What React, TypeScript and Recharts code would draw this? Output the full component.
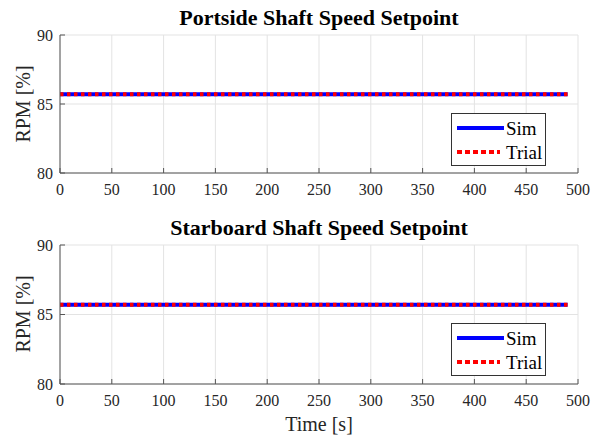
import React from 'react';
import { LineChart, Line, XAxis, YAxis, CartesianGrid, Legend } from 'recharts';

// ---- data ----
const timeS = [0, 100, 200, 300, 400, 490];
const portSim = [85.7, 85.7, 85.7, 85.7, 85.7, 85.7];
const portTrial = [85.7, 85.7, 85.7, 85.7, 85.7, 85.7];
const stbdSim = [85.7, 85.7, 85.7, 85.7, 85.7, 85.7];
const stbdTrial = [85.7, 85.7, 85.7, 85.7, 85.7, 85.7];
const xTicks = [0, 50, 100, 150, 200, 250, 300, 350, 400, 450, 500];
const yTicks = [80, 85, 90];
const titles = ['Portside Shaft Speed Setpoint', 'Starboard Shaft Speed Setpoint'];
const seriesNames = ['Sim', 'Trial'];
const xLabel = 'Time [s]';
const yLabel = 'RPM [%]';

// ---- styles ----
const FONT = "'Liberation Serif', 'Times New Roman', serif";
const AXIS = '#555555';
const TEXT = '#262626';
const GRID = '#e3e3e3';
const BLUE = '#0000ff';
const RED = '#ff0000';

const buildData = (sim: number[], trial: number[]) =>
  timeS.map((t, i) => ({ t, sim: sim[i], trial: trial[i] }));

const portData = buildData(portSim, portTrial);
const stbdData = buildData(stbdSim, stbdTrial);

const legendText: React.CSSProperties = { fontFamily: FONT, fontSize: 19 };

const LegendBox = () => (
  <svg width={96} height={54} style={{ display: 'block', fontFamily: FONT }}>
    <rect x={0.5} y={0.5} width={94} height={52} fill="#ffffff" stroke="#333333" strokeWidth={1} />
    <line x1={6} x2={53} y1={15} y2={15} stroke={BLUE} strokeWidth={4} />
    <text x={55} y={21.5} style={legendText} fill="#000">{seriesNames[0]}</text>
    <line x1={6} x2={49} y1={39} y2={39} stroke={RED} strokeWidth={4} strokeDasharray="5 3" />
    <text x={55} y={45.5} style={legendText} fill="#000">{seriesNames[1]}</text>
  </svg>
);

type PanelProps = { data: any[]; height: number; xAxisHeight: number };

const tickStyle = { fill: TEXT, fontSize: 16, fontFamily: FONT };

const Panel = ({ data, height, xAxisHeight }: PanelProps) => (
  <LineChart
    width={602}
    height={height}
    data={data}
    margin={{ top: 35, right: 24, left: 0, bottom: 0 }}
    style={{ fontFamily: FONT }}
  >
    <CartesianGrid stroke={GRID} strokeWidth={1} />
    <XAxis
      dataKey="t"
      type="number"
      domain={[0, 500]}
      ticks={xTicks}
      interval={0}
      allowDataOverflow
      height={xAxisHeight}
      stroke={AXIS}
      tickSize={-5}
      tickMargin={16}
      fontFamily={FONT}
      fontSize={16}
      tick={tickStyle}
    />
    <XAxis
      xAxisId="top"
      orientation="top"
      dataKey="t"
      type="number"
      domain={[0, 500]}
      ticks={xTicks}
      interval={0}
      allowDataOverflow
      height={0}
      stroke={AXIS}
      tickSize={-5}
      tick={false}
    />
    <YAxis
      type="number"
      domain={[80, 90]}
      ticks={yTicks}
      interval={0}
      allowDataOverflow
      width={60}
      stroke={AXIS}
      tickSize={-5}
      tickMargin={12}
      fontFamily={FONT}
      fontSize={16}
      tick={tickStyle}
    />
    <YAxis
      yAxisId="right"
      orientation="right"
      type="number"
      domain={[80, 90]}
      ticks={yTicks}
      interval={0}
      allowDataOverflow
      width={0}
      stroke={AXIS}
      tickSize={-5}
      tick={false}
    />
    <Line
      type="linear"
      dataKey="sim"
      name={seriesNames[0]}
      stroke={BLUE}
      strokeWidth={4}
      dot={false}
      activeDot={false}
      isAnimationActive={false}
    />
    <Line
      type="linear"
      dataKey="trial"
      name={seriesNames[1]}
      stroke={RED}
      strokeWidth={4}
      strokeDasharray="3.5 3.5"
      dot={false}
      activeDot={false}
      isAnimationActive={false}
    />
    <Legend
      layout="vertical"
      align="center"
      verticalAlign="middle"
      wrapperStyle={{ left: 451, top: 113, width: 96, height: 54 }}
      content={() => <LegendBox />}
    />
  </LineChart>
);

const titleStyle = (top: number): React.CSSProperties => ({
  position: 'absolute',
  left: 60,
  width: 518,
  top,
  textAlign: 'center',
  fontFamily: FONT,
  fontWeight: 'bold',
  fontSize: 22,
  lineHeight: '22px',
  color: '#000',
  whiteSpace: 'nowrap',
});

const yLabelStyle = (centerY: number): React.CSSProperties => ({
  position: 'absolute',
  left: 23,
  top: centerY,
  transform: 'translate(-50%, -50%) rotate(-90deg)',
  fontFamily: FONT,
  fontSize: 20,
  lineHeight: '20px',
  color: TEXT,
  whiteSpace: 'nowrap',
});

export default function App() {
  return (
    <div
      style={{
        position: 'absolute',
        left: 0,
        top: 0,
        width: 602,
        height: 435,
        background: '#ffffff',
        overflow: 'hidden',
        fontFamily: FONT,
      }}
    >
      <div style={{ position: 'absolute', left: 0, top: 0 }}>
        <Panel data={portData} height={215} xAxisHeight={42} />
      </div>
      <div style={{ position: 'absolute', left: 0, top: 210 }}>
        <Panel data={stbdData} height={225} xAxisHeight={51} />
      </div>
      <div style={titleStyle(7)}>{titles[0]}</div>
      <div style={titleStyle(217)}>{titles[1]}</div>
      <div style={yLabelStyle(104)}>{yLabel}</div>
      <div style={yLabelStyle(314)}>{yLabel}</div>
      <div
        style={{
          position: 'absolute',
          left: 60,
          width: 518,
          top: 414,
          textAlign: 'center',
          fontFamily: FONT,
          fontSize: 20,
          lineHeight: '20px',
          color: TEXT,
          whiteSpace: 'nowrap',
        }}
      >
        {xLabel}
      </div>
    </div>
  );
}
